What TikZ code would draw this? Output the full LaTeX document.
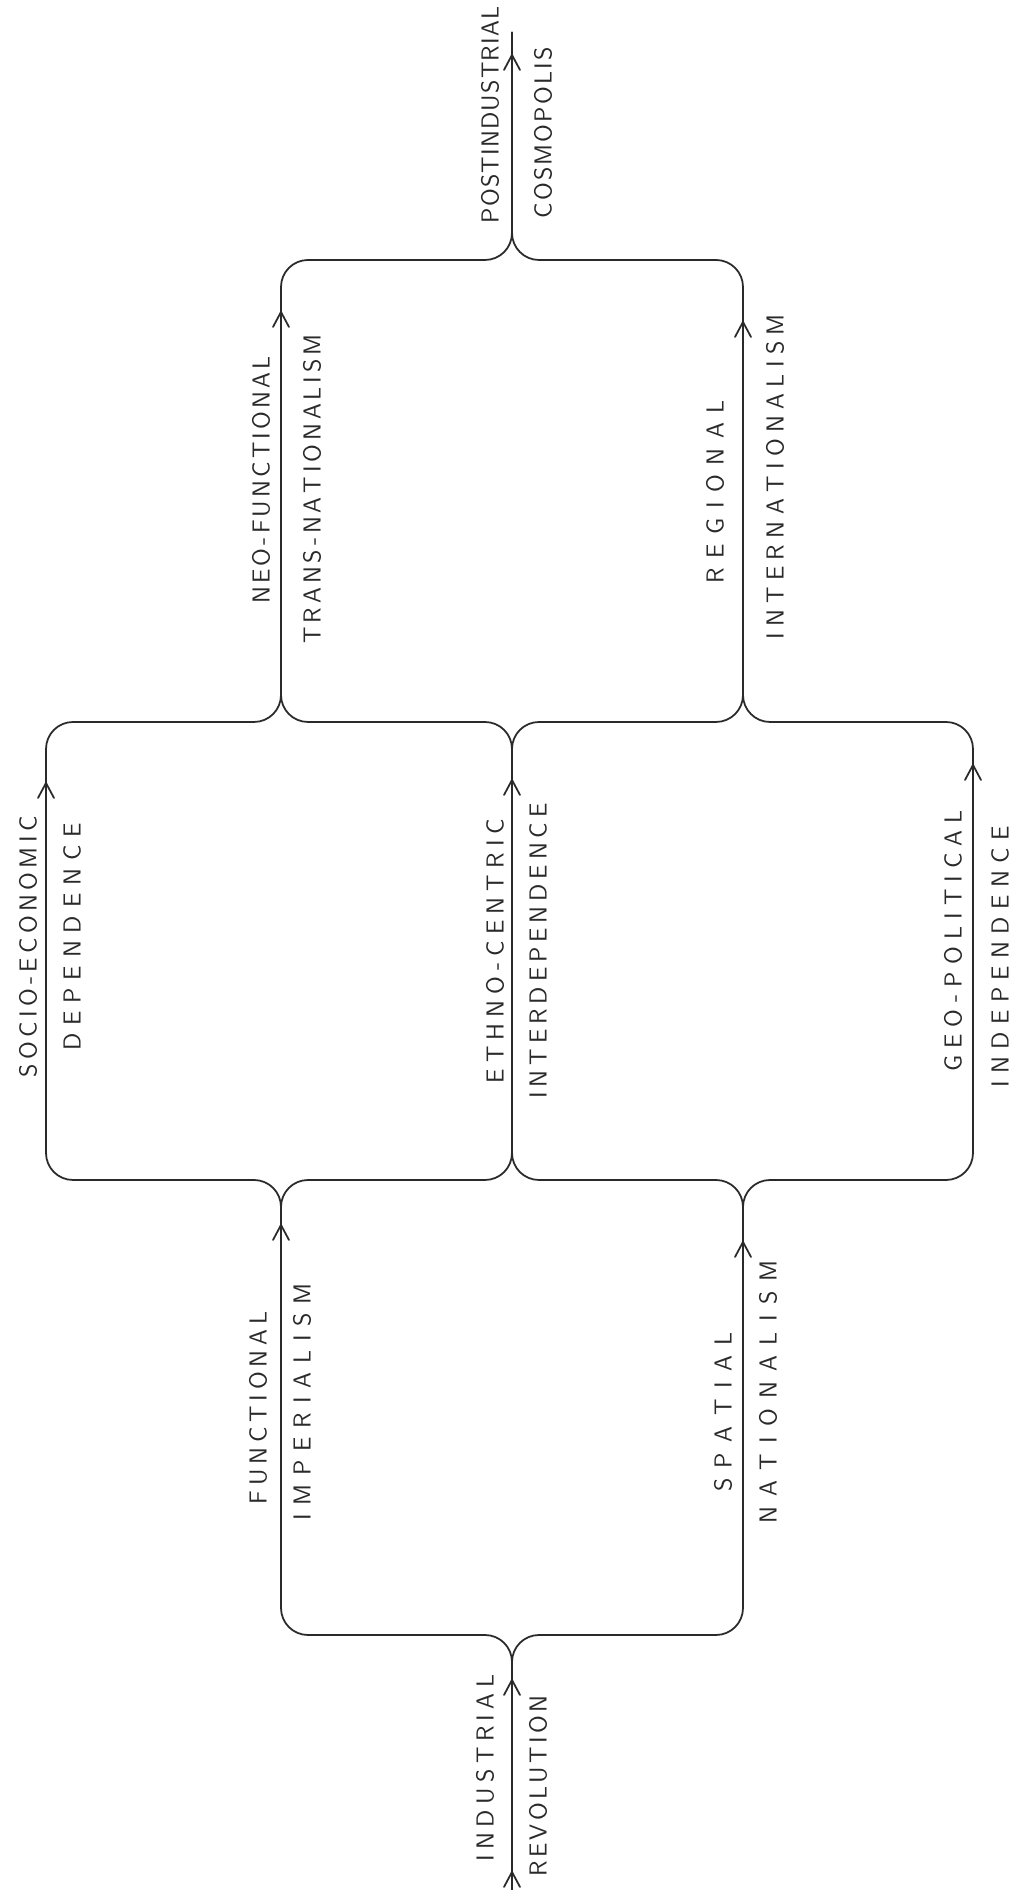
\documentclass[tikz,border=0pt]{standalone}
\usepackage{fontspec}
\usetikzlibrary{calc}
\definecolor{ink}{HTML}{2A2A2A}
% spread the letters of a label by #1 (em)
\def\lsloop#1{\ifx#1\relax\else#1\kern\lskern\expandafter\lsloop\fi}
\newcommand\spaced[2]{\def\lskern{#1em}\kern#1em\lsloop#2\relax}
\tikzset{
  track/.style={draw=ink,line width=1pt,rounded corners=0.54cm},
  lbl/.style={rotate=90,inner sep=0pt,text=ink,font=\sffamily\fontsize{14}{16}\selectfont},
}
\begin{document}
\begin{tikzpicture}[x=0.02cm,y=0.02cm]
\useasboundingbox[fill=white] (0,0) rectangle (1016,1890);
% lattice points
\coordinate (bot) at (512,0);
\coordinate (top) at (512,1858);
\coordinate (a1) at (281,255);
\coordinate (a2) at (512,255);
\coordinate (a3) at (743,255);
\coordinate (b0) at (46,710);
\coordinate (b1) at (281,710);
\coordinate (b2) at (512,710);
\coordinate (b3) at (743,710);
\coordinate (b4) at (973,710);
\coordinate (c0) at (46,1168);
\coordinate (c1) at (281,1168);
\coordinate (c2) at (512,1168);
\coordinate (c3) at (743,1168);
\coordinate (c4) at (973,1168);
\coordinate (d1) at (281,1630);
\coordinate (d2) at (512,1630);
\coordinate (d3) at (743,1630);
% branches
\draw[track] (bot) -- (a2) -- (a1) -- (b1) -- (b0) -- (c0) -- (c1) -- (d1) -- (d2) -- (top);
\draw[track] (bot) -- (a2) -- (a3) -- (b3) -- (b4) -- (c4) -- (c3) -- (d3) -- (d2) -- (top);
\draw[track] ($(a1)!.5!(b1)$) -- (b1) -- (b2) -- (c2) -- (c1) -- ($(c1)!.5!(d1)$);
\draw[track] ($(a3)!.5!(b3)$) -- (b3) -- (b2) -- (c2) -- (c3) -- ($(c3)!.5!(d3)$);
% arrow heads
\foreach \x/\y in {512/18,512/210,281/665,743/648,46/1107,512/1110,973/1125,281/1578,743/1568,512/1835}
  \draw[ink,line width=1pt,line cap=round] (\x-8,\y-15) -- (\x,\y) -- (\x+8,\y-15);
% labels
\node[lbl] (ind) at (485,122) {\spaced{.22}{INDUSTRIAL}};
\node[lbl] (rev) at (538,104) {\spaced{.14}{REVOLUTION}};
\node[lbl] (fun) at (258,482) {\spaced{.20}{FUNCTIONAL}};
\node[lbl] (imp) at (302,488) {\spaced{.36}{IMPERIALISM}};
\node[lbl] (spa) at (723,478) {\spaced{.43}{SPATIAL}};
\node[lbl] (nat) at (768,498) {\spaced{.42}{NATIONALISM}};
\node[lbl] (soc) at (28,943) {\spaced{.18}{SOCIO-ECONOMIC}};
\node[lbl] (dep) at (72,953) {\spaced{.32}{DEPENDENCE}};
\node[lbl] (eth) at (495,939) {\spaced{.25}{ETHNO-CENTRIC}};
\node[lbl] (int) at (538,939) {\spaced{.20}{INTERDEPENDENCE}};
\node[lbl] (geo) at (953,949) {\spaced{.29}{GEO-POLITICAL}};
\node[lbl] (inp) at (1000,933) {\spaced{.30}{INDEPENDENCE}};
\node[lbl] (neo) at (261,1410) {\spaced{.13}{NEO-FUNCTIONAL}};
\node[lbl] (tra) at (312,1401) {\spaced{.16}{TRANS-NATIONALISM}};
\node[lbl] (reg) at (715,1398) {\spaced{.39}{REGIONAL}};
\node[lbl] (itn) at (775,1413) {\spaced{.26}{INTERNATIONALISM}};
\node[lbl] (pos) at (490,1775) {\spaced{.05}{POSTINDUSTRIAL}};
\node[lbl] (cos) at (543,1757) {\spaced{.09}{COSMOPOLIS}};
\end{tikzpicture}
\end{document}
